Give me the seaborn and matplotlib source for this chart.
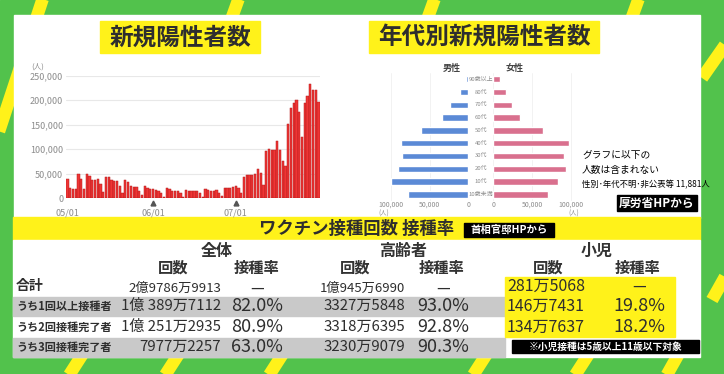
import numpy as np
import pandas as pd
import matplotlib.pyplot as plt
import seaborn as sns
from matplotlib.patches import Rectangle
from matplotlib.transforms import blended_transform_factory

# ============================================================
# DATA
# ============================================================

# daily new cases (thousands), 05/01 - 07/31
cases = [
    39, 20, 19, 18, 50, 39, 19, 50, 46, 38, 37, 38.5, 30, 13.5,
    44, 42.5, 36.5, 35, 36, 26, 11.5, 37, 33, 26, 24, 24, 15.5, 7,
    25, 22, 19.6, 19, 17, 15, 10, 3.5, 20, 18, 15.5, 15.5, 15, 10,
    3.5, 17, 15.5, 14, 14, 15, 10, 3.5, 18, 16, 15.5, 15.5, 16, 11.5,
    5, 21.5, 21.5, 21.5, 23.5, 25.5, 20, 11.5, 44, 47, 48, 48, 49, 59,
    51, 26.5, 97, 101, 98, 98, 116, 98, 76, 66, 151, 185, 195, 200,
    176, 125, 195, 209, 233, 221, 221, 197,
]
dates = pd.date_range("2022-05-01", periods=len(cases)).strftime("%m/%d")
tick_dates = ["05/01", "06/01", "07/01"]
marked_dates = ["06/01", "07/01"]
y_ticks = [0, 50000, 100000, 150000, 200000, 250000]

age_groups = ["90歳以上", "80代", "70代", "60代", "50代",
              "40代", "30代", "20代", "10代", "10歳未満"]
male = [2700, 11000, 23000, 34000, 61000, 87000, 85000, 91000, 100000, 78000]
female = [8000, 16000, 24000, 35000, 64000, 97000, 91000, 94000, 84000, 71000]
pyr_ticks = [0, 50000, 100000]

row_labels = ["合計", "うち1回以上接種者", "うち2回接種完了者", "うち3回接種完了者"]
all_counts = ["2億9786万9913", "1億 389万7112", "1億 251万2935", "7977万2257"]
all_rates = ["—", "82.0%", "80.9%", "63.0%"]
old_counts = ["1億945万6990", "3327万5848", "3318万6395", "3230万9079"]
old_rates = ["—", "93.0%", "92.8%", "90.3%"]
kid_counts = ["281万5068", "146万7431", "134万7637"]
kid_rates = ["—", "19.8%", "18.2%"]

# ============================================================
# STYLE
# ============================================================

sns.set_theme(style="white")
plt.rcParams["font.family"] = ["Noto Sans CJK JP", "DejaVu Sans"]

GREEN = "#52c24c"
YELLOW = "#fff21a"
RED = "#ef3535"
BLUE = "#5b8ad6"
PINK = "#d9708e"
DARK = "#2e2e2e"
GREY_TXT = "#8c8c8c"

W, H = 724, 374
fig = plt.figure(figsize=(W / 100, H / 100), dpi=100)


def px_axes(x, y, w, h):
    return fig.add_axes([x / W, 1 - (y + h) / H, w / W, h / H])


# ------------------------------------------------------------
# BACKGROUND CANVAS (pixel coords)
# ------------------------------------------------------------

bg = fig.add_axes([0, 0, 1, 1])
bg.set_xlim(0, W)
bg.set_ylim(H, 0)
bg.axis("off")
bg.add_patch(Rectangle((0, 0), W, H, color=GREEN, zorder=0))

stripes = [
    (44, -5, -22, 195), (240, -5, 222, 45), (436, -5, 418, 45),
    (640, -5, 622, 45), (730, 38, 702, 78), (730, 268, 712, 300),
    (84, 352, 66, 380), (180, 352, 162, 380), (284, 352, 266, 380),
    (488, 352, 470, 380), (590, 352, 572, 380), (682, 348, 664, 380),
]
for x0, y0, x1, y1 in stripes:
    bg.plot([x0, x1], [y0, y1], color=YELLOW, lw=9,
            solid_capstyle="butt", zorder=0.5)

bg.add_patch(Rectangle((14, 15), 686, 203, color="white", zorder=1))
bg.add_patch(Rectangle((13, 217), 687, 23, color=YELLOW, zorder=1))
bg.add_patch(Rectangle((13, 240), 687, 117, color="white", zorder=1))

# titles
bg.add_patch(Rectangle((100, 21), 160, 32, color=YELLOW, zorder=1.5))
bg.text(180, 37.5, "新規陽性者数", fontsize=17, weight="bold",
        color=DARK, ha="center", va="center")
bg.add_patch(Rectangle((369, 21), 230, 32, color=YELLOW, zorder=1.5))
bg.text(484, 37.5, "年代別新規陽性者数", fontsize=17, weight="bold",
        color=DARK, ha="center", va="center")

# ============================================================
# DAILY NEW CASES
# ============================================================

ax1 = px_axes(66, 75.7, 254, 122.6)
ax1.set_facecolor("none")
df_cases = pd.DataFrame({"date": dates, "cases": np.array(cases) * 1000})
sns.barplot(data=df_cases, x="date", y="cases", color=RED, width=0.82,
            edgecolor="#b51c1c", linewidth=0.35, saturation=1,
            errorbar=None, ax=ax1)
ax1.set_xlim(-0.5, len(cases) - 0.5)
ax1.set_ylim(0, 250000)
ax1.set_yticks(y_ticks)
ax1.set_yticklabels([f"{v:,}" for v in y_ticks])
ax1.set_xticks([list(dates).index(d) for d in tick_dates])
ax1.set_xticklabels(tick_dates)
ax1.tick_params(length=0, labelsize=6.5, labelcolor=GREY_TXT)
ax1.tick_params(axis="x", pad=7)
ax1.tick_params(axis="y", pad=2)
ax1.yaxis.grid(True, color="#e8e8e8", lw=0.8)
ax1.set_axisbelow(True)
ax1.set_xlabel("")
ax1.set_ylabel("")
for s in ax1.spines.values():
    s.set_visible(False)
tr = blended_transform_factory(ax1.transData, ax1.transAxes)
ax1.plot([list(dates).index(d) for d in marked_dates], [-0.035] * 2,
         ls="none", marker="^", ms=3.5, color="#555555",
         transform=tr, clip_on=False)
bg.text(38, 67, "(人)", fontsize=5.5, color=GREY_TXT, ha="center", va="center")

# ============================================================
# POPULATION PYRAMID
# ============================================================

df_pyr = pd.DataFrame({"age": age_groups, "male": male, "female": female})

axm = px_axes(383, 72.9, 85.3, 127.8)
axf = px_axes(493.3, 72.9, 85.3, 127.8)
for ax, col, color in [(axm, "male", BLUE), (axf, "female", PINK)]:
    ax.set_facecolor("none")
    sns.barplot(data=df_pyr, x=col, y="age", orient="h", color=color,
                width=0.5, saturation=1, errorbar=None, ax=ax)
    ax.set_xticks(pyr_ticks)
    ax.set_xticklabels([f"{v:,}" for v in pyr_ticks])
    ax.set_yticks([])
    ax.set_xlabel("")
    ax.set_ylabel("")
    ax.tick_params(length=0, labelsize=5, labelcolor=GREY_TXT, pad=0)
    ax.xaxis.grid(True, color="#f0f0f0", lw=0.6)
    ax.set_axisbelow(True)
    for s in ax.spines.values():
        s.set_visible(False)
axm.set_xlim(110000, 0)
axf.set_xlim(0, 110000)

tr = blended_transform_factory(axf.transAxes, axf.transData)
for i, lab in enumerate(age_groups):
    axf.text(-0.145, i, lab, transform=tr, fontsize=4.3, color=GREY_TXT,
             ha="center", va="center")

bg.text(452, 68, "男性", fontsize=6.5, weight="bold", color="#444444",
        ha="center", va="center")
bg.text(515, 68, "女性", fontsize=6.5, weight="bold", color="#444444",
        ha="center", va="center")
bg.text(384, 213.5, "(人)", fontsize=4.5, color=GREY_TXT, ha="center", va="center")
bg.text(574, 213.5, "(人)", fontsize=4.5, color=GREY_TXT, ha="center", va="center")

note = ["グラフに以下の", "人数は含まれない", "性別･年代不明･非公表等 11,881人"]
for i, line in enumerate(note):
    bg.text(582, 155 + i * 15, line, fontsize=7 if i < 2 else 6,
            color="black", ha="left", va="center")

bg.add_patch(Rectangle((617, 195), 80, 16, color="black", zorder=1.5))
bg.text(657, 203, "厚労省HPから", fontsize=8.5, weight="bold",
        color="white", ha="center", va="center")

# ============================================================
# VACCINATION TABLE
# ============================================================

bg.text(357, 229, "ワクチン接種回数 接種率", fontsize=12.5, weight="bold",
        color=DARK, ha="center", va="center")
bg.add_patch(Rectangle((464, 223), 90, 14, color="black", zorder=1.5))
bg.text(509, 230, "首相官邸HPから", fontsize=7.5, weight="bold",
        color="white", ha="center", va="center")

row_y = [286, 306, 327, 347]
for y in (row_y[1], row_y[3]):
    bg.add_patch(Rectangle((13, y - 9.5), 492, 19.5, color="#c9c9c9", zorder=1.5))
bg.add_patch(Rectangle((505, 277), 170, 60, color=YELLOW, zorder=1.5))
bg.add_patch(Rectangle((512, 340), 187, 13, color="black", zorder=1.5))
bg.text(605, 346.5, "※小児接種は5歳以上11歳以下対象", fontsize=7,
        weight="bold", color="white", ha="center", va="center")

for x, lab in [(217, "全体"), (403, "高齢者"), (597, "小児")]:
    bg.text(x, 251, lab, fontsize=11.5, weight="bold", color="#333333",
            ha="center", va="center")
for x, lab in [(173, "回数"), (257, "接種率"), (355, "回数"),
               (442, "接種率"), (548, "回数"), (638, "接種率")]:
    bg.text(x, 268, lab, fontsize=11, weight="bold", color="#333333",
            ha="center", va="center")

for i, lab in enumerate(row_labels):
    bg.text(16, row_y[i], lab, fontsize=10 if i == 0 else 8,
            weight="bold", color=DARK, ha="left", va="center")

for i in range(4):
    fs = 9.5 if i == 0 else 10.8
    y = row_y[i] + (2 if i == 0 else 0)
    bg.text(221, y, all_counts[i], fontsize=fs, color=DARK, ha="right", va="center")
    bg.text(257, y, all_rates[i], fontsize=13 if i else 11, color=DARK,
            ha="center", va="center")
    bg.text(405, y, old_counts[i], fontsize=fs, color=DARK, ha="right", va="center")
    bg.text(443, y, old_rates[i], fontsize=13 if i else 11, color=DARK,
            ha="center", va="center")

for i in range(3):
    bg.text(507, row_y[i], kid_counts[i], fontsize=11.5, color=DARK,
            ha="left", va="center")
    bg.text(639, row_y[i], kid_rates[i], fontsize=13 if i else 11,
            color=DARK, ha="center", va="center")

fig.savefig("out.png", dpi=100)
